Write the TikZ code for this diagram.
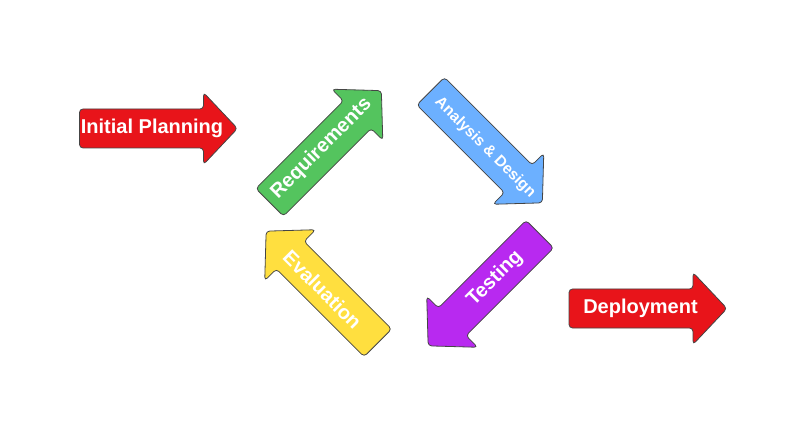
\documentclass[tikz,border=0pt]{standalone}
\usepackage{fontspec}
\setmainfont{Liberation Sans}
\usepackage{tikz}

\definecolor{planred}{HTML}{E8141A}
\definecolor{reqgreen}{HTML}{54C45E}
\definecolor{anablue}{HTML}{6CB0FF}
\definecolor{testpurple}{HTML}{B829F0}
\definecolor{evalyellow}{HTML}{FFDF3F}
\definecolor{rimgray}{HTML}{454545}

\tikzset{
  pics/phase/.style={code={
    \path[pic actions] (-79,-19.5) -- (45,-19.5) -- (45,-36) -- (79,0)
      -- (45,36) -- (45,19.5) -- (-79,19.5) -- cycle;
  }},
  phaseshape/.style={draw=rimgray, line width=0.8pt, rounded corners=3.5pt},
  phasetext/.style={text=white, inner sep=0pt, font=\bfseries\fontsize{20}{24}\selectfont},
  smalltext/.style={phasetext, font=\bfseries\fontsize{15.5}{18}\selectfont},
}

\begin{document}
\begin{tikzpicture}[x=1pt,y=-1pt]
          \useasboundingbox (0,0) rectangle (785,422);
          % start and end
          \pic[phaseshape, fill=planred] at (158.5,128.5) {phase};
          \node[phasetext] (plan) at (152,128.5) {Initial Planning};
          \pic[phaseshape, fill=planred] at (648,308.5) {phase};
          \node[phasetext] (deploy) at (640.5,308.5) {Deployment};
          % cycle
          \pic[phaseshape, fill=reqgreen, rotate=45] at (325.5,146.5) {phase};
          \node[phasetext, rotate=45] (req) at (321.5,148.5) {Requirements};
          \pic[phaseshape, fill=anablue, rotate=-45] at (486.5,147) {phase};
          \node[smalltext, rotate=-45] (design) at (485,147.5) {Analysis \& Design};
          \pic[phaseshape, fill=testpurple, rotate=-135] at (484,290) {phase};
          \node[phasetext, rotate=45] (test) at (495,278.5) {Testing};
          \pic[phaseshape, fill=evalyellow, rotate=135] at (322,287) {phase};
          \node[phasetext, rotate=-45] (eval) at (322.5,289.5) {Evaluation};
\end{tikzpicture}
\end{document}
